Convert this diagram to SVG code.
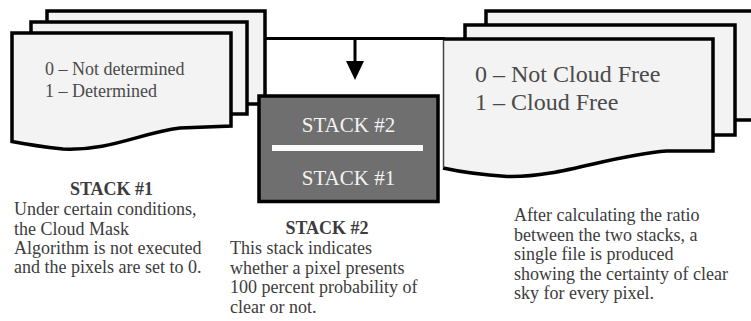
<svg xmlns="http://www.w3.org/2000/svg" width="751" height="321" viewBox="0 0 751 321">
  <defs>
    <style>
      .sheet { fill: #f3f3f3; stroke: #000; stroke-width: 3.5; stroke-linejoin: miter; }
      .sheet-fill { fill: #f3f3f3; stroke: none; }
      .edge { fill: none; stroke: #000; stroke-width: 3.5; stroke-linejoin: miter; }
      .thin-edge { fill: none; stroke: #444; stroke-width: 1.5; }
      .serif { font-family: "Liberation Serif", "Times New Roman", serif; }
      .sheet-text { fill: #4a4a4a; }
      .note { font-size: 18px; fill: #3c3c3c; }
      .note-head { font-size: 18px; font-weight: bold; fill: #3c3c3c; text-anchor: middle; }
      .box-text { font-size: 21px; fill: #f4f4f4; text-anchor: middle; }
      .conn { fill: none; stroke: #000; stroke-width: 3; }
    </style>
    <!-- solid triangular head, base at the line end, pointing along the line -->
    <marker id="arrowhead" viewBox="0 0 19 18" refX="0" refY="9" markerWidth="19" markerHeight="18" markerUnits="userSpaceOnUse" orient="auto">
      <path d="M0,0 L19,9 L0,18 Z" fill="#000"/>
    </marker>
  </defs>

  <rect width="751" height="321" fill="#fff"/>

  <!-- Stack #1: three stacked sheets, front one with a wavy bottom -->
  <g id="stack1">
    <rect class="sheet" x="47" y="11" width="218" height="93"/>
    <rect class="sheet" x="31" y="22" width="216" height="92"/>
    <path class="sheet" d="M12,33 L231,33 L231,126 L180,128 C140,133 110,151 63,149 Q35,146 12,141.5 Z"/>
    <g class="serif sheet-text" font-size="18">
      <text x="45" y="75">0 – Not determined</text>
      <text x="45" y="97">1 – Determined</text>
    </g>
  </g>

  <!-- Result stack: certainty of clear sky -->
  <g id="result-stack">
    <rect class="sheet" x="486" y="11" width="280" height="109"/>
    <rect class="sheet" x="465" y="25" width="270" height="110"/>
    <path class="sheet-fill" d="M443,39 L713,39 L713,151 L667,151 C610,155 560,178 507,176.5 Q470,174 443,168 Z"/>
    <path class="edge" d="M443,39 L713,39 L713,151 L667,151 C610,155 560,178 507,176.5 Q470,174 443,168"/>
    <line class="thin-edge" x1="443.5" y1="39" x2="443.5" y2="168"/>
    <g class="serif sheet-text" font-size="24">
      <text x="475" y="82">0 – Not Cloud Free</text>
      <text x="475" y="110">1 – Cloud Free</text>
    </g>
  </g>

  <!-- Connector from the stacks down into the combined box -->
  <g id="connectors">
    <line class="conn" x1="265" y1="38.5" x2="445" y2="38.5"/>
    <line class="conn" x1="355" y1="38.5" x2="355" y2="61" marker-end="url(#arrowhead)"/>
  </g>

  <!-- Combined box: Stack #2 over Stack #1 -->
  <g id="ratio-box">
    <rect x="259" y="96" width="179" height="105.5" fill="#6f6f6f" stroke="#000" stroke-width="3.5"/>
    <rect x="272" y="145" width="151" height="6" fill="#fafafa"/>
    <text class="serif box-text" x="348.5" y="132">STACK #2</text>
    <text class="serif box-text" x="348.5" y="185">STACK #1</text>
  </g>

  <!-- Description of stack #1 -->
  <g id="note-stack1" class="serif">
    <text class="note-head" x="111.5" y="195">STACK #1</text>
    <text class="note" x="14" y="215">Under certain conditions,</text>
    <text class="note" x="14" y="234.5">the Cloud Mask</text>
    <text class="note" x="14" y="254">Algorithm is not executed</text>
    <text class="note" x="14" y="273">and the pixels are set to 0.</text>
  </g>

  <!-- Description of stack #2 -->
  <g id="note-stack2" class="serif">
    <text class="note-head" x="327" y="234">STACK #2</text>
    <text class="note" x="230" y="254">This stack indicates</text>
    <text class="note" x="230" y="273.5">whether a pixel presents</text>
    <text class="note" x="230" y="293">100 percent probability of</text>
    <text class="note" x="230" y="312.5">clear or not.</text>
  </g>

  <!-- Description of the result -->
  <g id="note-result" class="serif">
    <text class="note" x="514" y="221">After calculating the ratio</text>
    <text class="note" x="514" y="240.5">between the two stacks, a</text>
    <text class="note" x="514" y="260">single file is produced</text>
    <text class="note" x="514" y="279.5">showing the certainty of clear</text>
    <text class="note" x="514" y="299">sky for every pixel.</text>
  </g>
</svg>
